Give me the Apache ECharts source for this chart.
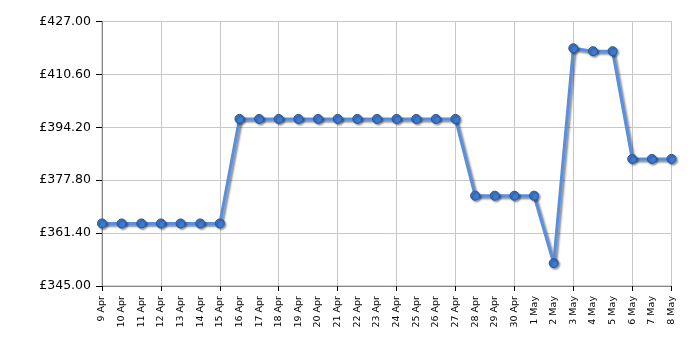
<!DOCTYPE html>
<html>
<head>
<meta charset="utf-8">
<script src="https://cdn.jsdelivr.net/npm/echarts@6/dist/echarts.min.js"></script>
<style>
  html, body { margin: 0; padding: 0; background: #fff; }
  #chart { width: 700px; height: 350px; }
</style>
</head>
<body>
<div id="chart"></div>
<script>
const dates = ['9 Apr', '10 Apr', '11 Apr', '12 Apr', '13 Apr', '14 Apr', '15 Apr', '16 Apr', '17 Apr', '18 Apr',
  '19 Apr', '20 Apr', '21 Apr', '22 Apr', '23 Apr', '24 Apr', '25 Apr', '26 Apr', '27 Apr', '28 Apr',
  '29 Apr', '30 Apr', '1 May', '2 May', '3 May', '4 May', '5 May', '6 May', '7 May', '8 May'];
const prices = [364.4, 364.4, 364.4, 364.4, 364.4, 364.4, 364.4, 396.8, 396.8, 396.8,
  396.8, 396.8, 396.8, 396.8, 396.8, 396.8, 396.8, 396.8, 396.8, 373.0,
  373.0, 373.0, 373.0, 352.1, 418.7, 417.8, 417.8, 384.4, 384.4, 384.4];
const yMin = 345, yMax = 427, yStep = 16.4;

const chart = echarts.init(document.getElementById('chart'));
const option = {
  animation: false,
  grid: {
    left: 102, right: 28.5, top: 21.5, bottom: 64,
    show: true, borderColor: '#aaa', borderWidth: 1
  },
  xAxis: {
    type: 'category',
    data: dates,
    boundaryGap: false,
    axisLine: { lineStyle: { color: '#888', width: 1 } },
    axisTick: { show: true, interval: 2, length: 5, lineStyle: { color: '#000' } },
    splitLine: { show: true, interval: 2, lineStyle: { color: '#c8c8c8' } },
    axisLabel: {
      interval: 0, rotate: 90, fontFamily: 'DejaVu Sans', fontSize: 9.5, color: '#000', margin: 10
    }
  },
  yAxis: {
    type: 'value',
    min: yMin, max: yMax, interval: yStep,
    axisLine: { show: true, lineStyle: { color: '#888' } },
    axisTick: { show: true, length: 6, lineStyle: { color: '#000' } },
    splitLine: { lineStyle: { color: '#c8c8c8' } },
    axisLabel: {
      fontFamily: 'DejaVu Sans', fontSize: 12.5, color: '#000', margin: 11,
      formatter: v => '£' + v.toFixed(2)
    }
  },
  series: [{
    type: 'line',
    data: prices,
    symbol: 'circle',
    symbolSize: 9,
    lineStyle: {
      color: '#5590e3', width: 3,
      shadowColor: 'rgba(0,0,0,0.45)', shadowBlur: 2, shadowOffsetX: 2, shadowOffsetY: 2
    },
    itemStyle: {
      color: '#3d7ad0', borderColor: '#24569c', borderWidth: 1,
      shadowColor: 'rgba(0,0,0,0.4)', shadowBlur: 2, shadowOffsetX: 1.5, shadowOffsetY: 1.5
    }
  }]
};
chart.setOption(option);
</script>
</body>
</html>
